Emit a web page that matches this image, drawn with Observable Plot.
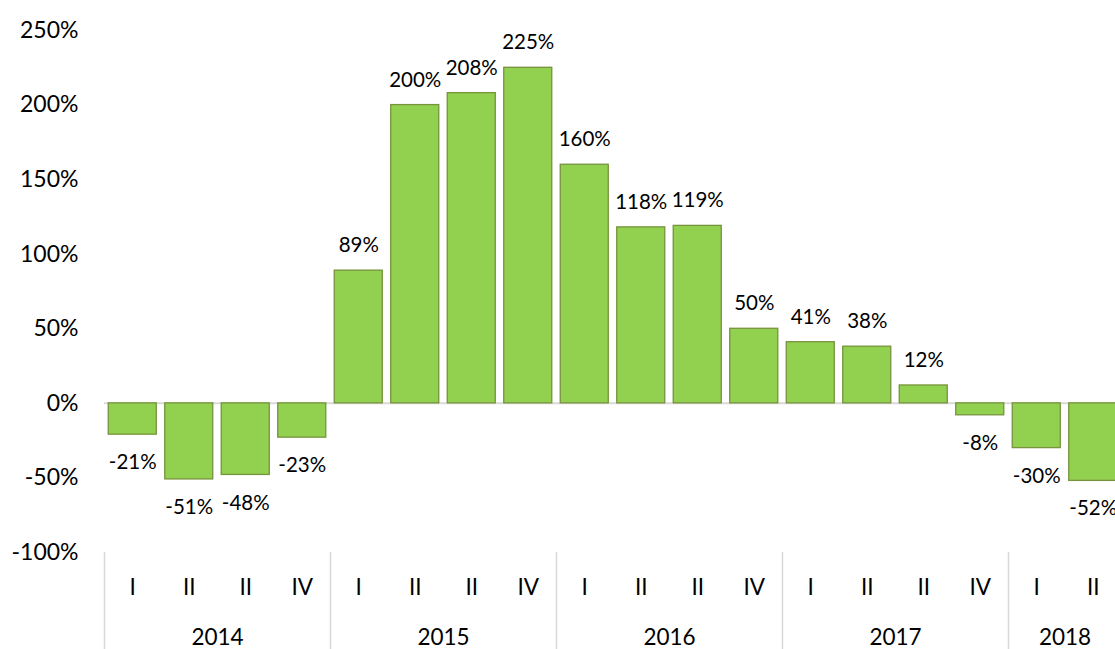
<!DOCTYPE html>
<html>
<head>
<meta charset="utf-8">
<script src="https://cdn.jsdelivr.net/npm/d3@7"></script>
<script src="https://cdn.jsdelivr.net/npm/@observablehq/plot@0.6"></script>
<style>
  html, body { margin: 0; padding: 0; background: #fff; overflow: hidden; }
  #chart svg { display: block; }
</style>
</head>
<body>
<div id="chart"></div>
<script>
// Data
const years    = ["2014","2014","2014","2014","2015","2015","2015","2015","2016","2016","2016","2016","2017","2017","2017","2017","2018","2018"];
const quarters = ["I","II","II","IV","I","II","II","IV","I","II","II","IV","I","II","II","IV","I","II"];
const values   = [-21, -51, -48, -23, 89, 200, 208, 225, 160, 118, 119, 50, 41, 38, 12, -8, -30, -52];
const yTicks   = [-100, -50, 0, 50, 100, 150, 200, 250];

const data = values.map((v, i) => ({i, year: years[i], quarter: quarters[i], value: v}));
const yearStarts = data.filter((d, i) => i === 0 || years[i - 1] !== d.year);
// every group has an even number of quarters: place label at the left-middle band, shifted by half a step
const yearMids = yearStarts.map(d => {
  const n = years.filter(y => y === d.year).length;
  return {year: d.year, i: d.i + n / 2 - 1};
});

const W = 1115, H = 649;
const xRange = [104, 1121];
const step = (xRange[1] - xRange[0]) / values.length;
const font = "Lato, 'Open Sans', sans-serif";

const chart = Plot.plot({
  width: W,
  height: H,
  marginLeft: 104,
  marginRight: 0,
  marginTop: 30,
  marginBottom: 97,
  style: {fontFamily: font, fontSize: "20px", color: "#000", background: "#fff", overflow: "hidden"},
  x: {domain: d3.range(values.length), range: xRange, paddingInner: 0.15, paddingOuter: 0.075, round: false, axis: null},
  y: {domain: [-100, 250], range: [552, 30], axis: null},
  marks: [
    Plot.ruleY([0], {stroke: "#d9d9d9", strokeWidth: 2}),
    Plot.barY(data, {x: "i", y: "value", fill: "#92d050", stroke: "#77933c", strokeWidth: 1.3}),
    Plot.text(data.filter(d => d.value >= 0), {
      x: "i", y: "value", text: d => d.value + "%",
      fontSize: 20.5, fill: "#000", lineAnchor: "middle", dy: -25
    }),
    Plot.text(data.filter(d => d.value < 0), {
      x: "i", y: "value", text: d => d.value + "%",
      fontSize: 20.5, fill: "#000", lineAnchor: "middle", dy: 28
    }),
    Plot.axisY(yTicks, {
      label: null, tickSize: 0, tickPadding: 26, fontSize: 23, tickFormat: d => d + "%", fill: "#000"
    }),
    // category axis: group separators
    Plot.ruleX(yearStarts, {x: "i", dx: -step / 2, y1: -100, y2: -170, stroke: "#d9d9d9", strokeWidth: 1.5}),
    // quarter labels
    Plot.text(data, {x: "i", y: () => -100, text: "quarter", dy: 35, fontSize: 22.5, fill: "#000", lineAnchor: "middle"}),
    // year labels
    Plot.text(yearMids, {x: "i", y: () => -100, dx: step / 2, dy: 85, text: "year", fontSize: 22.5, fill: "#000", lineAnchor: "middle"})
  ]
});

document.getElementById("chart").append(chart);
</script>
</body>
</html>
